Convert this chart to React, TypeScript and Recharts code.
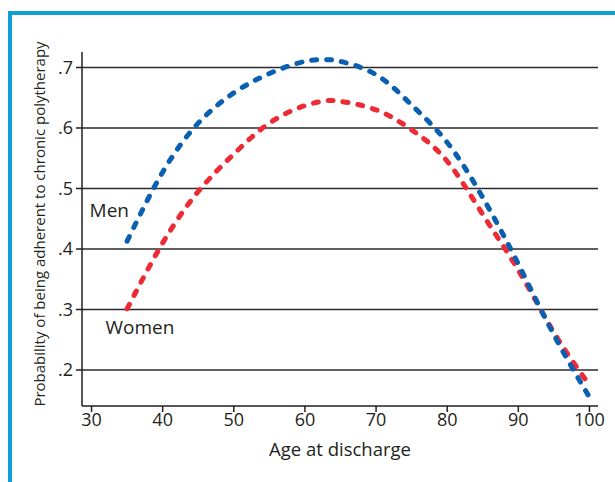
import { Label, Line, LineChart, ReferenceDot, ReferenceLine, XAxis, YAxis } from "recharts";

const ages = [35, 40, 45, 50, 55, 60, 63, 65, 70, 75, 80, 85, 90, 95, 100];
const menValues = [0.413, 0.527, 0.608, 0.658, 0.69, 0.71, 0.713, 0.71, 0.688, 0.638, 0.576, 0.485, 0.375, 0.258, 0.155];
const womenValues = [0.301, 0.41, 0.495, 0.557, 0.608, 0.637, 0.645, 0.644, 0.63, 0.597, 0.545, 0.457, 0.365, 0.262, 0.175];
const xTicks = [30, 40, 50, 60, 70, 80, 90, 100];
const yTicks = [0.2, 0.3, 0.4, 0.5, 0.6, 0.7];

const FONT = "'Open Sans', sans-serif";
const INK = "#231f20";

export default function App() {
  const data = ages.map((age, i) => ({ age, men: menValues[i], women: womenValues[i] }));

  return (
    <div style={{ position: "absolute", left: 0, top: 0, width: 615, height: 482, background: "#fff", fontFamily: FONT }}>
      {/* frame */}
      <div style={{ position: "absolute", left: 8, top: 11, width: 607, height: 4, background: "#119fd7" }} />
      <div style={{ position: "absolute", left: 8, top: 11, width: 4, height: 471, background: "#119fd7" }} />
      <LineChart width={615} height={482} data={data} margin={{ top: 52, right: 17, bottom: 26, left: 0 }}>
        {yTicks.map((t) => (
          <ReferenceLine key={t} y={t} stroke="#2b2b2b" strokeWidth={1.4} />
        ))}
        <XAxis
          dataKey="age"
          type="number"
          domain={[28.66, 101.2]}
          ticks={xTicks}
          allowDataOverflow
          height={50}
          stroke={INK}
          strokeWidth={1.5}
          tickSize={6}
          tickMargin={1}
          tick={{ fontSize: 18, fill: INK, fontFamily: FONT }}
        >
          <Label value="Age at discharge" position="insideBottom" offset={0} style={{ fontSize: 18.5, fill: INK, fontFamily: FONT }} />
        </XAxis>
        <YAxis
          type="number"
          domain={[0.1405, 0.7256]}
          ticks={yTicks}
          allowDataOverflow
          width={82}
          stroke={INK}
          strokeWidth={1.5}
          tickSize={6}
          tickMargin={3}
          tickFormatter={(v: number) => v.toFixed(1).replace(/^0/, "")}
          tick={{ fontSize: 18, fill: INK, fontFamily: FONT }}
        >
          <Label
            value="Probability of being adherent to chronic polytherapy"
            angle={-90}
            position="center"
            dx={-1}
            dy={-5}
            style={{ fontSize: 15, fill: INK, fontFamily: FONT }}
          />
        </YAxis>
        <Line
          type="natural"
          dataKey="women"
          stroke="#ee2a35"
          strokeWidth={5}
          strokeDasharray="5 10"
          strokeLinecap="round"
          dot={false}
          isAnimationActive={false}
        />
        <Line
          type="natural"
          dataKey="men"
          stroke="#0b5fb0"
          strokeWidth={5}
          strokeDasharray="5 10"
          strokeLinecap="round"
          dot={false}
          isAnimationActive={false}
        />
        <ReferenceDot x={32.5} y={0.464} r={0} fill="none" stroke="none"
          label={{ value: "Men", position: "center", style: { fontSize: 19, fill: INK, fontFamily: FONT } }} />
        <ReferenceDot x={36.8} y={0.271} r={0} fill="none" stroke="none"
          label={{ value: "Women", position: "center", style: { fontSize: 19, fill: INK, fontFamily: FONT } }} />
      </LineChart>
    </div>
  );
}
